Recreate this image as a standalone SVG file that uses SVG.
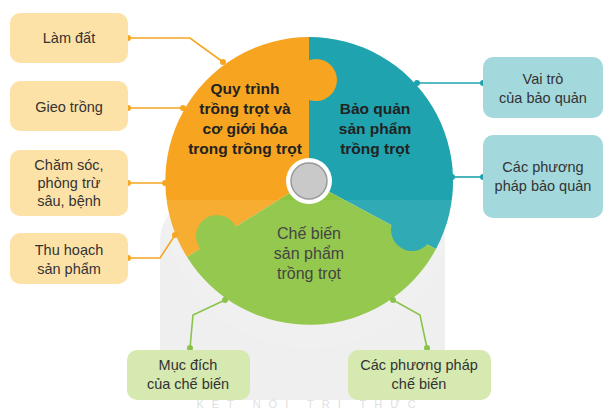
<svg xmlns="http://www.w3.org/2000/svg" width="611" height="409" viewBox="0 0 611 409">
<style>
text{font-family:"Liberation Sans",Arial,sans-serif;font-size:14.5px;fill:#333;text-anchor:middle}
.t{font-size:15.5px;font-weight:bold;fill:#222}
.g{font-size:16px;fill:#444}
.lo{fill:#fde2a8}.lt{fill:#a3d9dc}.lg{fill:#d5e9b0}
.co{stroke:#f5a623}.ct{stroke:#1fa2ad}.cg{stroke:#8bc34a}
.c path{fill:none;stroke-width:1.6}
</style>
<rect width="611" height="409" fill="#fff"/>
<g id="watermark" opacity="0.6">
<rect x="160" y="200" width="285" height="200" rx="40" fill="#e6e6e6"/>
<text x="310" y="408" style="font-size:11px;fill:#ccc;letter-spacing:8px">KẾT NỐI TRI THỨC</text>
</g>
<g id="wheel">
<path d="M309,181 L309,37 A144,144 0 0 0 187,257 Z" fill="#f7a521"/>
<path d="M309,181 L309,37 A144,144 0 0 1 436,249 Z" fill="#1fa3ae"/>
<path d="M309,181 L436,249 A144,144 0 0 1 187,257 Z" fill="#8dc43f"/>
<circle cx="316" cy="80" r="21" fill="#f7a521"/>
<circle cx="217" cy="236" r="21" fill="#8dc43f"/>
<circle cx="412" cy="230" r="21" fill="#1fa3ae"/>
<path d="M165,205 A144,144 0 0 0 453,205 L453,200 L165,200 Z" fill="#fff" opacity="0.08"/>
<circle cx="309" cy="181" r="23" fill="#fff"/>
<circle cx="309" cy="181" r="18" fill="#c9c9c9" stroke="#9a9a9a" stroke-width="1.5"/>
</g>
<g id="center-orange"><text class="t" x="245" y="94">Quy trình</text><text class="t" x="245" y="114">trồng trọt và</text><text class="t" x="245" y="134">cơ giới hóa</text><text class="t" x="245" y="154">trong trồng trọt</text></g>
<g id="center-teal"><text class="t" x="375" y="114">Bảo quản</text><text class="t" x="375" y="134">sản phẩm</text><text class="t" x="375" y="154">trồng trọt</text></g>
<g id="center-green"><text class="g" x="309" y="239">Chế biến</text><text class="g" x="309" y="259">sản  phẩm</text><text class="g" x="309" y="279">trồng trọt</text></g>
<g id="connectors" class="c">
<path class="co" d="M128,38 H190 L223,62"/><circle cx="128" cy="38" r="3" fill="#f5a623"/><circle cx="223" cy="62" r="3" fill="#f5a623"/>
<path class="co" d="M128,108 H183"/><circle cx="128" cy="108" r="3" fill="#f5a623"/><circle cx="183" cy="108" r="3" fill="#f5a623"/>
<path class="co" d="M128,183 H165"/><circle cx="128" cy="183" r="3" fill="#f5a623"/><circle cx="165" cy="183" r="3" fill="#f5a623"/>
<path class="co" d="M128,258 H160 L175,235"/><circle cx="128" cy="258" r="3" fill="#f5a623"/><circle cx="175" cy="235" r="3" fill="#f5a623"/>
<path class="ct" d="M483,83 H417"/><circle cx="483" cy="83" r="3" fill="#1fa2ad"/><circle cx="417" cy="83" r="3" fill="#1fa2ad"/>
<path class="ct" d="M483,177 H452"/><circle cx="483" cy="177" r="3" fill="#1fa2ad"/><circle cx="452" cy="177" r="3" fill="#1fa2ad"/>
<path class="cg" d="M190,348 L193,315 L225,300"/><circle cx="190" cy="348" r="3" fill="#8bc34a"/><circle cx="225" cy="300" r="3" fill="#8bc34a"/>
<path class="cg" d="M427,348 L420,315 L393,300"/><circle cx="427" cy="348" r="3" fill="#8bc34a"/><circle cx="393" cy="300" r="3" fill="#8bc34a"/>
</g>
<g id="n1"><rect class="lo" x="10" y="13" width="118" height="50" rx="10"/><text x="69" y="43">Làm đất</text></g>
<g id="n2"><rect class="lo" x="10" y="81" width="118" height="50" rx="10"/><text x="69" y="112">Gieo trồng</text></g>
<g id="n3"><rect class="lo" x="10" y="150" width="118" height="66" rx="10"/><text x="69" y="170">Chăm sóc,</text><text x="69" y="188">phòng trừ</text><text x="69" y="206">sâu, bệnh</text></g>
<g id="n4"><rect class="lo" x="10" y="233" width="118" height="51" rx="10"/><text x="69" y="255">Thu hoạch</text><text x="69" y="274">sản phẩm</text></g>
<g id="n5"><rect class="lt" x="483" y="57" width="120" height="61" rx="10"/><text x="543" y="84">Vai trò</text><text x="543" y="103">của bảo quản</text></g>
<g id="n6"><rect class="lt" x="483" y="135" width="120" height="83" rx="10"/><text x="543" y="172">Các phương</text><text x="543" y="191">pháp bảo quản</text></g>
<g id="n7"><rect class="lg" x="127" y="350" width="123" height="50" rx="10"/><text x="188" y="370">Mục đích</text><text x="188" y="389">của chế biến</text></g>
<g id="n8"><rect class="lg" x="348" y="350" width="143" height="50" rx="10"/><text x="419" y="370">Các phương pháp</text><text x="419" y="389">chế biến</text></g>
</svg>
